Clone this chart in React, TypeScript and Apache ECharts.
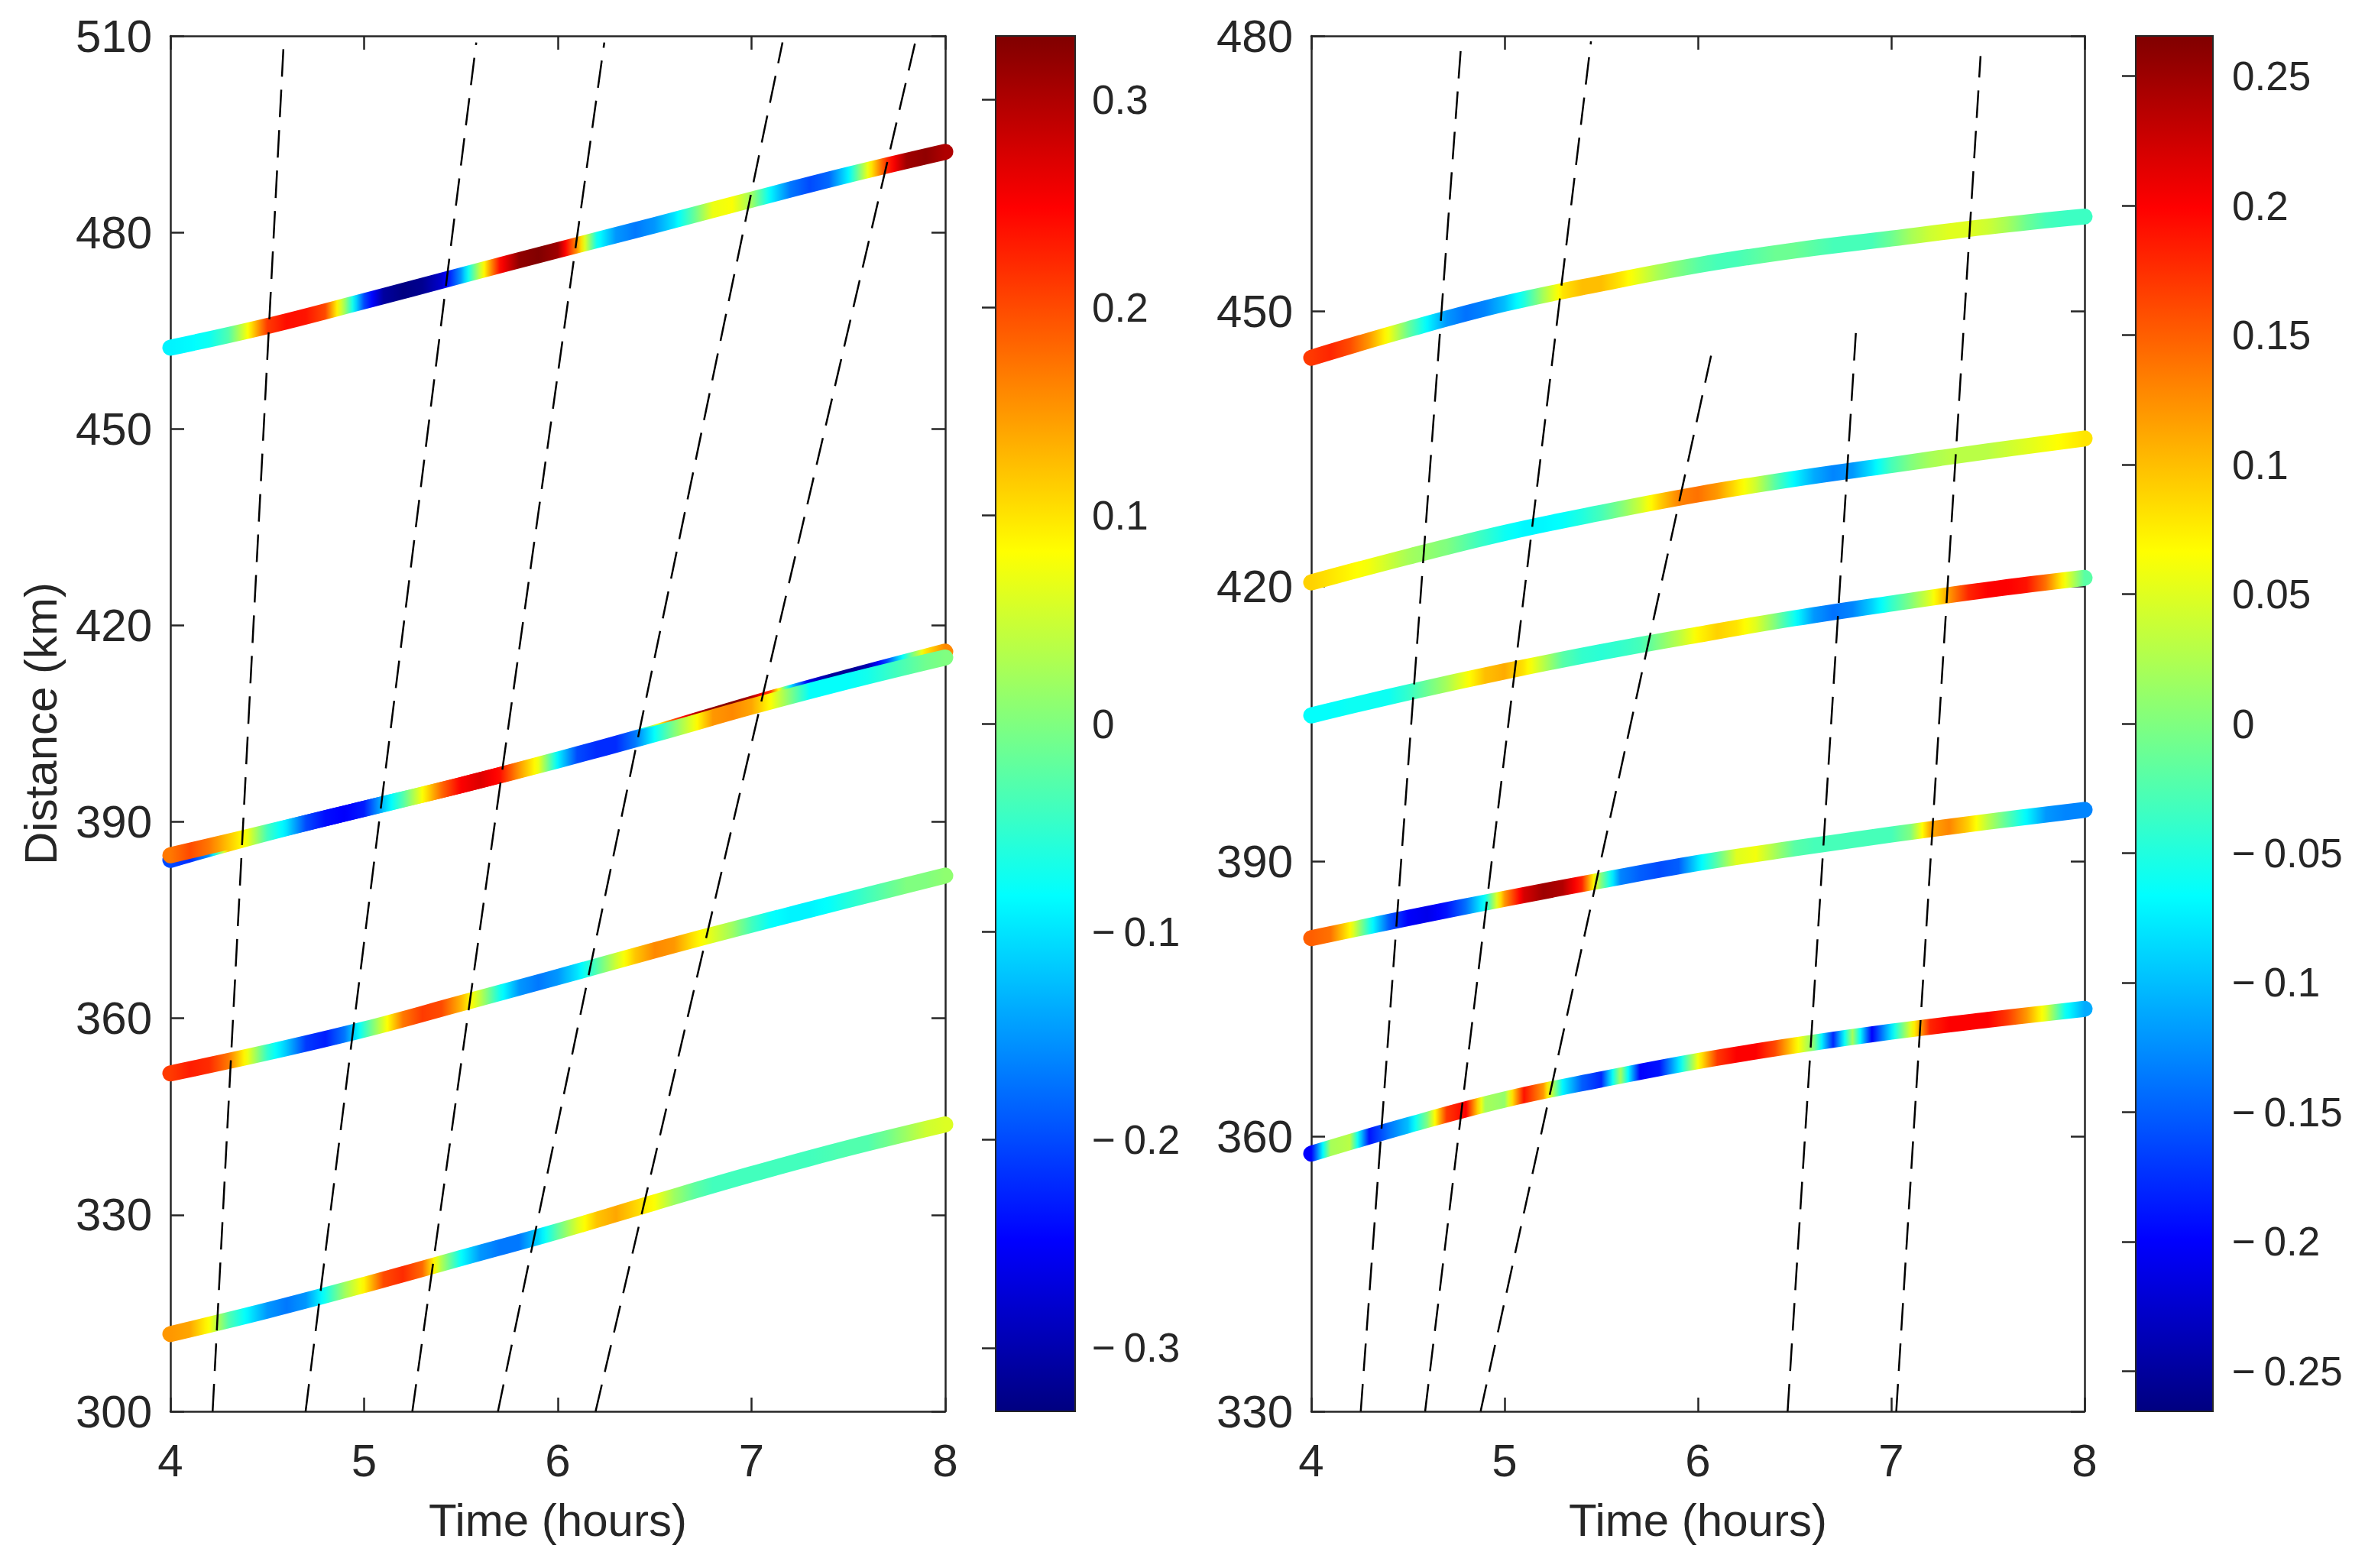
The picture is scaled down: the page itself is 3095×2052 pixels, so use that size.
import React, { useEffect, useRef } from "react";
import * as echarts from "echarts";

const W = 3095;
const H = 2052;
const FONT = "Liberation Sans";
const TXT = "#262626";

// ---------- data ----------
// distances sampled every half hour
const DIST_T = [4, 4.5, 5, 5.5, 6, 6.5, 7, 7.5, 8];
// colour values sampled every 0.1 h
const COLOR_T = [
  4.0, 4.1, 4.2, 4.3, 4.4, 4.5, 4.6, 4.7, 4.8, 4.9,
  5.0, 5.1, 5.2, 5.3, 5.4, 5.5, 5.6, 5.7, 5.8, 5.9,
  6.0, 6.1, 6.2, 6.3, 6.4, 6.5, 6.6, 6.7, 6.8, 6.9,
  7.0, 7.1, 7.2, 7.3, 7.4, 7.5, 7.6, 7.7, 7.8, 7.9, 8.0,
];

// left panel
const L1_D = [462.4, 465.7, 469.5, 473.4, 477.3, 481.1, 485.0, 488.8, 492.3];
const L1_V = [
  -0.09, -0.085, -0.075, -0.03, 0.08, 0.21, 0.24, 0.235, 0.2, 0.02,
  -0.2, -0.31, -0.33, -0.32, -0.28, -0.15, 0.05, 0.24, 0.32, 0.33,
  0.31, 0.15, -0.07, -0.15, -0.17, -0.15, -0.1, -0.02, 0.07, 0.08,
  0.02, -0.09, -0.17, -0.2, -0.18, -0.09, 0.07, 0.22, 0.31, 0.32, 0.3,
];
const LA_D = [384.2, 388.3, 392.0, 395.6, 399.5, 403.6, 408.0, 412.1, 416.0];
const LA_V = [
  -0.2, -0.22, -0.15, 0.12, 0.07, -0.04, -0.1, -0.2, -0.24, -0.25,
  -0.23, -0.12, -0.03, 0.08, 0.18, 0.25, 0.27, 0.24, 0.15, 0.07,
  -0.09, -0.2, -0.22, -0.22, -0.17, 0.05, 0.2, 0.29, 0.32, 0.33,
  0.3, 0.2, -0.1, -0.27, -0.31, -0.32, -0.3, -0.2, -0.05, 0.1, 0.16,
];
const LB_D = [384.9, 388.4, 392.0, 395.6, 399.4, 403.4, 407.6, 411.5, 415.1];
const LB_V = [
  0.17, 0.2, 0.17, 0.12, 0.07, -0.04, -0.1, -0.2, -0.24, -0.25,
  -0.23, -0.12, -0.03, 0.08, 0.18, 0.25, 0.27, 0.24, 0.15, 0.07,
  -0.09, -0.2, -0.22, -0.22, -0.17, -0.08, 0.0, 0.07, 0.15, 0.16,
  0.14, 0.08, 0.0, -0.08, -0.08, -0.08, -0.07, -0.05, -0.03, -0.01, 0.0,
];
const L3_D = [351.6, 354.8, 358.3, 362.3, 366.3, 370.4, 374.3, 378.1, 381.8];
const L3_V = [
  0.21, 0.23, 0.22, 0.17, 0.07, -0.05, -0.12, -0.21, -0.23, -0.17,
  -0.05, 0.06, 0.17, 0.21, 0.2, 0.13, 0.04, -0.07, -0.15, -0.17,
  -0.15, -0.1, -0.03, 0.05, 0.12, 0.16, 0.15, 0.1, 0.06, 0.02,
  -0.04, -0.08, -0.09, -0.09, -0.08, -0.06, -0.04, -0.02, 0.0, 0.0, 0.01,
];
const L4_D = [311.8, 315.4, 319.3, 323.4, 327.5, 331.9, 336.2, 340.2, 343.8];
const L4_V = [
  0.15, 0.14, 0.08, -0.03, -0.09, -0.15, -0.17, -0.15, -0.07, 0.02,
  0.09, 0.2, 0.22, 0.18, 0.03, -0.08, -0.15, -0.17, -0.17, -0.11,
  -0.02, 0.06, 0.12, 0.14, 0.11, 0.08, 0.02, -0.02, -0.04, -0.04,
  -0.04, -0.04, -0.04, -0.04, -0.035, -0.03, -0.03, -0.01, 0.02, 0.05, 0.06,
];

// right panel
const R1_D = [444.9, 448.0, 450.8, 453.0, 455.0, 456.6, 457.9, 459.2, 460.3];
const R1_V = [
  0.17, 0.18, 0.16, 0.12, 0.06, -0.01, -0.07, -0.12, -0.14, -0.13,
  -0.1, -0.05, 0.02, 0.08, 0.1, 0.1, 0.08, 0.05, 0.02, 0.0,
  -0.02, -0.03, -0.03, -0.02, -0.01, -0.01, -0.02, -0.03, -0.03, -0.03,
  -0.01, 0.02, 0.04, 0.05, 0.05, 0.04, 0.02, -0.01, -0.03, -0.035, -0.035,
];
const R2_D = [420.4, 423.2, 425.8, 428.0, 430.0, 431.7, 433.2, 434.7, 436.1];
const R2_V = [
  0.09, 0.08, 0.07, 0.06, 0.04, 0.02, 0.01, 0.0, -0.02, -0.04,
  -0.06, -0.07, -0.07, -0.065, -0.05, -0.03, 0.0, 0.04, 0.09, 0.13,
  0.14, 0.12, 0.08, 0.04, -0.02, -0.07, -0.11, -0.13, -0.12, -0.08,
  -0.03, 0.0, 0.02, 0.03, 0.03, 0.03, 0.04, 0.05, 0.06, 0.07, 0.08,
];
const R3_D = [405.9, 408.4, 410.7, 412.8, 414.7, 416.5, 418.1, 419.6, 420.9];
const R3_V = [
  -0.065, -0.065, -0.06, -0.06, -0.06, -0.04, -0.01, 0.02, 0.06, 0.1,
  0.11, 0.08, 0.03, -0.02, -0.04, -0.045, -0.04, -0.03, 0.0, 0.03,
  0.07, 0.09, 0.08, 0.05, 0.0, -0.06, -0.12, -0.14, -0.13, -0.09,
  -0.04, 0.0, 0.05, 0.12, 0.18, 0.2, 0.2, 0.19, 0.14, 0.06, -0.02,
];
const R4_D = [381.6, 383.8, 385.9, 387.9, 389.8, 391.4, 392.9, 394.3, 395.6];
const R4_V = [
  0.15, 0.14, 0.07, -0.05, -0.15, -0.2, -0.21, -0.19, -0.14, -0.06,
  0.12, 0.22, 0.25, 0.24, 0.18, 0.0, -0.13, -0.15, -0.16, -0.15,
  -0.08, -0.02, 0.05, 0.06, 0.02, -0.02, -0.03, -0.03, -0.03, -0.03,
  -0.03, 0.0, 0.11, 0.13, 0.09, 0.03, -0.02, -0.07, -0.12, -0.13, -0.13,
];
const R5_D = [358.1, 361.2, 364.0, 366.2, 368.2, 369.9, 371.4, 372.7, 373.9];
const R5_V = [
  -0.2, 0.02, 0.03, -0.19, -0.14, -0.1, 0.0, 0.17, 0.2, 0.02,
  0.01, 0.19, 0.12, -0.07, -0.15, -0.18, 0.02, -0.2, -0.19, -0.08,
  0.06, 0.17, 0.2, 0.2, 0.16, 0.08, 0.0, -0.18, 0.02, -0.2,
  -0.08, 0.05, 0.18, 0.2, 0.2, 0.2, 0.17, 0.12, 0.05, -0.06, -0.11,
];

// dashed reference lines [time, distance]
const L_DASH_1 = [[4.218, 300], [4.585, 509]];
const L_DASH_2 = [[4.698, 300], [5.579, 509]];
const L_DASH_3 = [[5.249, 300], [6.24, 509]];
const L_DASH_4 = [[5.691, 300], [7.16, 509]];
const L_DASH_5 = [[6.195, 300], [7.845, 509]];
const R_DASH_1 = [[4.256, 330], [4.777, 479.6]];
const R_DASH_2 = [[4.589, 330], [5.447, 479.4]];
const R_DASH_3 = [[4.876, 330], [6.074, 445.7]];
const R_DASH_4 = [[6.464, 330], [6.82, 448.6]];
const R_DASH_5 = [[7.026, 330], [7.462, 477.8]];

// axes / colourbars
const X_RANGE = [4, 8];
const L_Y_RANGE = [300, 510];
const R_Y_RANGE = [330, 480];
const L_CB_RANGE = [-0.3305, 0.3305];
const R_CB_RANGE = [-0.2655, 0.2655];
const L_CB_TICKS = [-0.3, -0.2, -0.1, 0, 0.1, 0.2, 0.3];
const R_CB_TICKS = [-0.25, -0.2, -0.15, -0.1, -0.05, 0, 0.05, 0.1, 0.15, 0.2, 0.25];

// ---------- helpers ----------
const JET: [number, number[]][] = [
  [0, [0, 0, 128]],
  [0.125, [0, 0, 255]],
  [0.375, [0, 255, 255]],
  [0.625, [255, 255, 0]],
  [0.875, [255, 0, 0]],
  [1, [128, 0, 0]],
];
function jet(u: number): string {
  const x = Math.max(0, Math.min(1, u));
  for (let i = 0; i < JET.length - 1; i++) {
    const [a, ca] = JET[i];
    const [b, cb] = JET[i + 1];
    if (x <= b) {
      const f = (x - a) / (b - a);
      const c = [0, 1, 2].map((k) => Math.round(ca[k] + (cb[k] - ca[k]) * f));
      return `rgb(${c[0]},${c[1]},${c[2]})`;
    }
  }
  return "rgb(128,0,0)";
}
const JET_STOPS = JET.map(([o, c]) => ({ offset: o, color: `rgb(${c[0]},${c[1]},${c[2]})` }));

function colorList(vals: number[], range: number[]): string[] {
  const out: string[] = [];
  const SUB = 10;
  const norm = (v: number) => (v - range[0]) / (range[1] - range[0]);
  for (let i = 0; i < vals.length - 1; i++) {
    for (let s = 0; s < SUB; s++) {
      const v = vals[i] + ((vals[i + 1] - vals[i]) * s) / SUB;
      out.push(jet(norm(v)));
    }
  }
  out.push(jet(norm(vals[vals.length - 1])));
  return out;
}

function fmtCb(v: number): string {
  if (Math.abs(v) < 1e-9) return "0";
  const s = String(+Math.abs(v).toFixed(2));
  return v < 0 ? "\u2212\u2009" + s : s;
}

const labelStyle = { color: TXT, fontFamily: FONT, fontSize: 60 };
const cbLabelStyle = { color: TXT, fontFamily: FONT, fontSize: 53 };
const axisLine = { show: true, lineStyle: { color: TXT, width: 2.5 } };
const tickIn = { show: true, inside: true, length: 18, lineStyle: { color: TXT, width: 2.5 } };

export default function App() {
  const ref = useRef<HTMLDivElement>(null);
  useEffect(() => {
    if (!ref.current) return;
    const chart = echarts.init(ref.current, null, { renderer: "svg", width: W, height: H });

    const colored = [
      { d: L1_D, v: L1_V, g: 0, r: L_CB_RANGE },
      { d: LA_D, v: LA_V, g: 0, r: L_CB_RANGE },
      { d: LB_D, v: LB_V, g: 0, r: L_CB_RANGE },
      { d: L3_D, v: L3_V, g: 0, r: L_CB_RANGE },
      { d: L4_D, v: L4_V, g: 0, r: L_CB_RANGE },
      { d: R1_D, v: R1_V, g: 1, r: R_CB_RANGE },
      { d: R2_D, v: R2_V, g: 1, r: R_CB_RANGE },
      { d: R3_D, v: R3_V, g: 1, r: R_CB_RANGE },
      { d: R4_D, v: R4_V, g: 1, r: R_CB_RANGE },
      { d: R5_D, v: R5_V, g: 1, r: R_CB_RANGE },
    ];
    const dashes = [
      { d: L_DASH_1, g: 0 }, { d: L_DASH_2, g: 0 }, { d: L_DASH_3, g: 0 },
      { d: L_DASH_4, g: 0 }, { d: L_DASH_5, g: 0 },
      { d: R_DASH_1, g: 1 }, { d: R_DASH_2, g: 1 }, { d: R_DASH_3, g: 1 },
      { d: R_DASH_4, g: 1 }, { d: R_DASH_5, g: 1 },
    ];

    const series: any[] = [];
    const visualMap: any[] = [];
    colored.forEach((c, i) => {
      series.push({
        type: "line",
        xAxisIndex: c.g === 0 ? 0 : 2,
        yAxisIndex: c.g === 0 ? 0 : 2,
        data: DIST_T.map((t, k) => [t, c.d[k]]),
        smooth: 0.4,
        symbol: "none",
        clip: false,
        silent: true,
        z: 2,
        lineStyle: { width: 21, cap: "round", join: "round" },
      });
      visualMap.push({
        type: "continuous",
        show: false,
        seriesIndex: i,
        dimension: 0,
        min: COLOR_T[0],
        max: COLOR_T[COLOR_T.length - 1],
        inRange: { color: colorList(c.v, c.r) },
      });
    });
    dashes.forEach((d) => {
      series.push({
        type: "line",
        xAxisIndex: d.g === 0 ? 0 : 2,
        yAxisIndex: d.g === 0 ? 0 : 2,
        data: d.d,
        symbol: "none",
        silent: true,
        z: 3,
        lineStyle: { color: "#000", width: 2.5, type: [36, 17] },
      });
    });
    const cbRender = (params: any) => {
      const cs = params.coordSys;
      return {
        type: "rect",
        shape: { x: cs.x, y: cs.y, width: cs.width, height: cs.height },
        style: {
          fill: { type: "linear", x: 0, y: 1, x2: 0, y2: 0, colorStops: JET_STOPS },
          stroke: TXT,
          lineWidth: 2,
        },
      };
    };
    series.push({ type: "custom", xAxisIndex: 4, yAxisIndex: 4, data: [[0.5, 0]], renderItem: cbRender, z: 1, silent: true });
    series.push({ type: "custom", xAxisIndex: 5, yAxisIndex: 5, data: [[0.5, 0]], renderItem: cbRender, z: 1, silent: true });

    const xMain = (grid: number, pos: string, withLabel: boolean) => ({
      gridIndex: grid,
      type: "value",
      position: pos,
      min: X_RANGE[0],
      max: X_RANGE[1],
      interval: 1,
      axisLine,
      axisTick: tickIn,
      splitLine: { show: false },
      axisLabel: withLabel ? { ...labelStyle, margin: 34 } : { show: false },
      ...(withLabel
        ? {
            name: "Time (hours)",
            nameLocation: "middle",
            nameGap: 112,
            nameTextStyle: { ...labelStyle },
          }
        : {}),
    });
    const yMain = (grid: number, pos: string, range: number[], withLabel: boolean, name?: string) => ({
      gridIndex: grid,
      type: "value",
      position: pos,
      min: range[0],
      max: range[1],
      interval: 30,
      axisLine,
      axisTick: tickIn,
      splitLine: { show: false },
      axisLabel: withLabel ? { ...labelStyle, margin: 24 } : { show: false },
      ...(name
        ? {
            name,
            nameLocation: "middle",
            nameGap: 140,
            nameRotate: 90,
            nameTextStyle: { ...labelStyle },
          }
        : {}),
    });
    const yCb = (grid: number, range: number[], ticks: number[], margin: number) => ({
      gridIndex: grid,
      type: "value",
      position: "right",
      min: range[0],
      max: range[1],
      z: 10,
      axisLine: { show: false },
      axisTick: { show: true, inside: true, length: 18, customValues: ticks, lineStyle: { color: TXT, width: 2.5 } },
      axisLabel: { ...cbLabelStyle, margin, customValues: ticks, formatter: (v: number) => fmtCb(v) },
      splitLine: { show: false },
    });

    const option: any = {
      animation: false,
      backgroundColor: "#ffffff",
      grid: [
        { left: 223, top: 47, width: 1014, height: 1800, outerBoundsMode: "none" },
        { left: 1716, top: 47, width: 1012, height: 1800, outerBoundsMode: "none" },
        { left: 1303, top: 47, width: 104, height: 1800, outerBoundsMode: "none" },
        { left: 2795, top: 47, width: 101, height: 1800, outerBoundsMode: "none" },
      ],
      xAxis: [
        xMain(0, "bottom", true),
        xMain(0, "top", false),
        xMain(1, "bottom", true),
        xMain(1, "top", false),
        { gridIndex: 2, type: "value", min: 0, max: 1, show: false },
        { gridIndex: 3, type: "value", min: 0, max: 1, show: false },
      ],
      yAxis: [
        yMain(0, "left", L_Y_RANGE, true, "Distance (km)"),
        yMain(0, "right", L_Y_RANGE, false),
        yMain(1, "left", R_Y_RANGE, true),
        yMain(1, "right", R_Y_RANGE, false),
        yCb(2, L_CB_RANGE, L_CB_TICKS, 22),
        yCb(3, R_CB_RANGE, R_CB_TICKS, 25),
      ],
      visualMap,
      series,
    };
    chart.setOption(option);
    return () => chart.dispose();
  }, []);
  return (
    <div
      ref={ref}
      style={{ position: "fixed", left: 0, top: 0, width: W, height: H, background: "#fff" }}
    />
  );
}
